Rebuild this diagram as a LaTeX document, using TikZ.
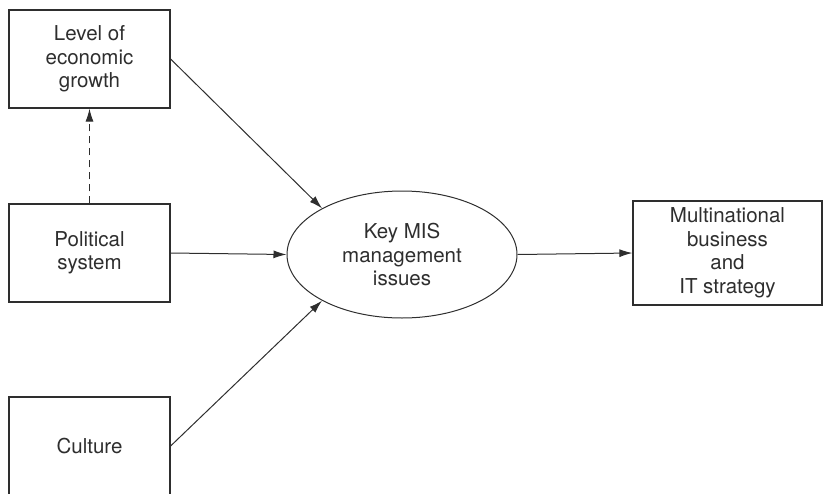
\documentclass[tikz,border=0pt]{standalone}
\usepackage{fontspec}
\setmainfont{TeX Gyre Heros}
\usetikzlibrary{shapes.geometric,arrows.meta}
\definecolor{ink}{HTML}{2E2E2E}
\begin{document}
\begin{tikzpicture}[x=1pt,y=-1pt,
  every node/.style={font=\fontsize{20.5}{23.5}\selectfont, text=ink, align=center},
  factorbox/.style={draw=ink, line width=1.2pt, minimum width=161pt, minimum height=98pt, inner sep=0pt},
  issuebox/.style={draw=ink, line width=1pt, ellipse, minimum width=230pt, minimum height=127pt, inner sep=0pt},
  link/.style={draw=ink, line width=1pt, -{Latex[length=13pt,width=8pt]}}]
  \useasboundingbox (0,0) rectangle (824,493);
  \clip (0,0) rectangle (824,493);
  \node[factorbox] (growth) at (89.5,59) {Level of\\economic\\growth};
  \node[factorbox] (politics) at (89.5,253) {Political\\system};
  \node[factorbox] (culture) at (89.5,446) {Culture};
  \node[issuebox] (issues) at (402,254.5) {Key MIS\\management\\issues};
  \node[draw=ink, line width=1.2pt, minimum width=189pt, minimum height=104pt, inner sep=0pt] (strategy) at (727.5,253) {Multinational\\business\\and\\IT strategy};
  \draw[link] (growth.east) -- (issues.150);
  \draw[link] (politics.east) -- (issues.west);
  \draw[link] (culture.east) -- (issues.210);
  \draw[link] (issues.east) -- (strategy.west);
  \draw[link, dashed, dash pattern=on 7pt off 5pt] (politics.north) -- (growth.south);
\end{tikzpicture}
\end{document}
